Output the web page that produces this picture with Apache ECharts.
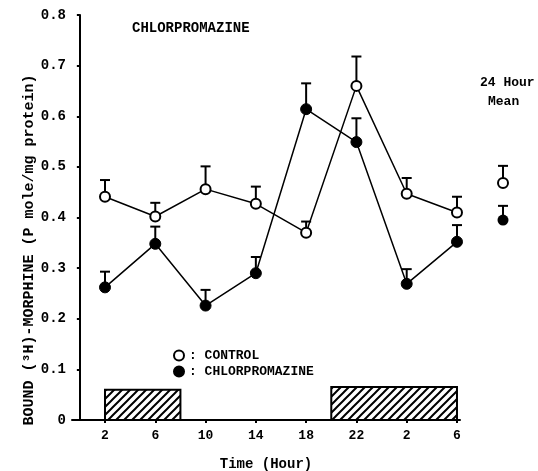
<!DOCTYPE html>
<html><head><meta charset="utf-8">
<script src="https://cdn.jsdelivr.net/npm/echarts@6/dist/echarts.min.js"></script>
<style>html,body{margin:0;padding:0;background:#fff}#c{width:538px;height:471px}</style>
</head><body><div id="c"></div>
<script>
// ---- data ----
const hours = [2, 6, 10, 14, 18, 22, 26, 30];
const hourLabels = ['2', '6', '10', '14', '18', '22', '2', '6'];
const controlMean = [0.441, 0.402, 0.456, 0.427, 0.370, 0.660, 0.447, 0.410];
const controlErr  = [0.033, 0.027, 0.045, 0.034, 0.022, 0.058, 0.031, 0.031];
const chlorMean   = [0.262, 0.348, 0.226, 0.290, 0.614, 0.549, 0.269, 0.352];
const chlorErr    = [0.031, 0.034, 0.031, 0.032, 0.051, 0.047, 0.029, 0.033];
const dayMeanControl = [0.468, 0.034];
const dayMeanChlor   = [0.395, 0.028];
const darkStart = [2, 20];
const darkEnd   = [8, 30];
const darkHeight = [0.06, 0.065];
const yTicks = [0, 0.1, 0.2, 0.3, 0.4, 0.5, 0.6, 0.7, 0.8];

const MONO = '"Liberation Mono", "DejaVu Sans Mono", monospace';

// hatch pattern
const pc = document.createElement('canvas');
pc.width = 8; pc.height = 8;
const g = pc.getContext('2d');
g.fillStyle = '#fff'; g.fillRect(0, 0, 8, 8);
g.strokeStyle = '#000'; g.lineWidth = 2;
g.beginPath();
g.moveTo(-2, 10); g.lineTo(10, -2);
g.moveTo(-2, 2); g.lineTo(2, -2);
g.moveTo(6, 10); g.lineTo(10, 6);
g.stroke();

const pairs = (xs, ys) => xs.map((x, i) => [x, ys[i]]);
const errData = (xs, ys, es) => xs.map((x, i) => [x, ys[i], es[i]]);

function errRender(params, api) {
  const x = api.value(0), v = api.value(1), e = api.value(2);
  const b = api.coord([x, v]);
  const t = api.coord([x, v + e]);
  const st = { stroke: '#000', lineWidth: 2 };
  return {
    type: 'group',
    children: [
      { type: 'line', shape: { x1: b[0], y1: b[1], x2: t[0], y2: t[1] }, style: st },
      { type: 'line', shape: { x1: t[0] - 5, y1: t[1], x2: t[0] + 5, y2: t[1] }, style: st }
    ]
  };
}

const darkData = darkStart.map((s, i) => [s, darkEnd[i], darkHeight[i]]);

const chart = echarts.init(document.getElementById('c'), null, { renderer: 'canvas' });
chart.setOption({
  animation: false,
  backgroundColor: '#fff',
  title: {
    text: 'CHLORPROMAZINE', left: 127, top: 16,
    textStyle: { fontFamily: MONO, fontWeight: 'bold', fontSize: 14, color: '#000' }
  },
  legend: {
    data: ['CONTROL', 'CHLORPROMAZINE'],
    orient: 'vertical', left: 168, top: 344,
    itemWidth: 10, itemHeight: 10, itemGap: 3, icon: 'circle',
    formatter: ': {name}',
    textStyle: { fontFamily: MONO, fontWeight: 'bold', fontSize: 13, color: '#000' }
  },
  grid: [
    { left: 72, right: 78, top: 15, bottom: 51, outerBoundsMode: 'none', containLabel: false },
    { left: 490, width: 26, top: 15, bottom: 51, outerBoundsMode: 'none', containLabel: false }
  ],
  xAxis: [
    {
      type: 'value', gridIndex: 0, min: -0.625, max: 30.24,
      axisLine: { lineStyle: { color: '#000', width: 2 } },
      splitLine: { show: false },
      axisTick: { customValues: hours, length: 3, lineStyle: { color: '#000', width: 2 } },
      axisLabel: {
        customValues: hours, margin: 9,
        formatter: v => hourLabels[hours.indexOf(v)],
        fontFamily: MONO, fontWeight: 'bold', fontSize: 13, color: '#000'
      },
      name: 'Time (Hour)', nameLocation: 'middle', nameGap: 37,
      nameTextStyle: { fontFamily: MONO, fontWeight: 'bold', fontSize: 14, color: '#000' }
    },
    { type: 'value', gridIndex: 1, min: 0, max: 2, show: false }
  ],
  yAxis: [
    {
      type: 'value', gridIndex: 0, min: 0, max: 0.8, interval: 0.1,
      axisLine: { show: true, lineStyle: { color: '#000', width: 2 } },
      splitLine: { show: false },
      axisTick: { show: true, length: 3, lineStyle: { color: '#000', width: 2 } },
      axisLabel: {
        margin: 6,
        formatter: v => (Math.abs(v) < 1e-9 ? '0' : v.toFixed(1)),
        fontFamily: MONO, fontWeight: 'bold', fontSize: 14, color: '#000'
      }
    },
    { type: 'value', gridIndex: 1, min: 0, max: 0.8, show: false }
  ],
  graphic: [
    {
      type: 'text', x: 29, y: 250, rotation: Math.PI / 2,
      style: {
        text: 'BOUND (³H)-MORPHINE (P mole/mg protein)',
        align: 'center', verticalAlign: 'middle',
        font: 'bold 15px ' + MONO, fill: '#000'
      }
    },
    { type: 'text', left: 480, top: 76, style: { text: '24 Hour', font: 'bold 13px ' + MONO, fill: '#000' } },
    { type: 'text', left: 488, top: 95, style: { text: 'Mean', font: 'bold 13px ' + MONO, fill: '#000' } }
  ],
  series: [
    {
      type: 'custom', name: 'dark', xAxisIndex: 0, yAxisIndex: 0, z: 1,
      data: darkData,
      renderItem: (params, api) => {
        const p0 = api.coord([api.value(0), api.value(2)]);
        const p1 = api.coord([api.value(1), 0]);
        return {
          type: 'rect',
          shape: { x: p0[0], y: p0[1], width: p1[0] - p0[0], height: p1[1] - p0[1] },
          style: { fill: { image: pc, repeat: 'repeat' }, stroke: '#000', lineWidth: 2 }
        };
      }
    },
    {
      type: 'custom', name: 'errC', xAxisIndex: 0, yAxisIndex: 0, z: 1,
      data: errData(hours, controlMean, controlErr), renderItem: errRender
    },
    {
      type: 'custom', name: 'errP', xAxisIndex: 0, yAxisIndex: 0, z: 1,
      data: errData(hours, chlorMean, chlorErr), renderItem: errRender
    },
    {
      type: 'line', name: 'CONTROL', xAxisIndex: 0, yAxisIndex: 0, z: 3,
      data: pairs(hours, controlMean),
      symbol: 'circle', symbolSize: 10,
      lineStyle: { color: '#000', width: 1.5 },
      itemStyle: { color: '#fff', borderColor: '#000', borderWidth: 2 }
    },
    {
      type: 'line', name: 'CHLORPROMAZINE', xAxisIndex: 0, yAxisIndex: 0, z: 3,
      data: pairs(hours, chlorMean),
      symbol: 'circle', symbolSize: 11,
      lineStyle: { color: '#000', width: 1.5 },
      itemStyle: { color: '#000', borderColor: '#000', borderWidth: 1 }
    },
    {
      type: 'custom', name: 'errMean', xAxisIndex: 1, yAxisIndex: 1, z: 1,
      data: [[1, dayMeanControl[0], dayMeanControl[1]], [1, dayMeanChlor[0], dayMeanChlor[1]]],
      renderItem: errRender
    },
    {
      type: 'scatter', name: 'meanC', xAxisIndex: 1, yAxisIndex: 1, z: 3,
      data: [[1, dayMeanControl[0]]], symbol: 'circle', symbolSize: 10,
      itemStyle: { color: '#fff', borderColor: '#000', borderWidth: 2, opacity: 1 }
    },
    {
      type: 'scatter', name: 'meanP', xAxisIndex: 1, yAxisIndex: 1, z: 3,
      data: [[1, dayMeanChlor[0]]], symbol: 'circle', symbolSize: 11,
      itemStyle: { color: '#000', opacity: 1 }
    }
  ]
});
</script>
</body></html>
